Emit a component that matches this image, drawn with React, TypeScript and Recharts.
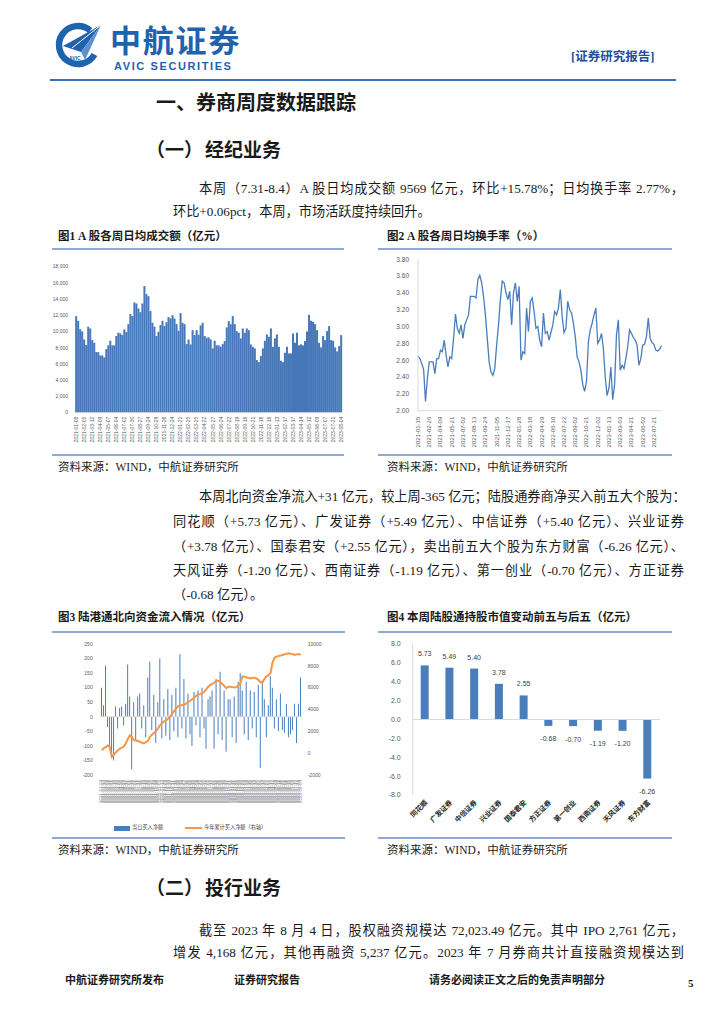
import React from "react";
import { BarChart, Bar, LineChart, Line, ComposedChart, XAxis, YAxis, ReferenceLine, LabelList } from "recharts";

const SERIF = "'Liberation Serif', 'Noto Sans CJK SC', serif";
const SANS = "'Liberation Sans', 'Noto Sans CJK SC', sans-serif";
const BLUE = "#4a7ebb";
const TICK_GREY = "#595959";
const RULE = "#8fa9d4";

// 图1 A股各周日均成交额（亿元）
const TURNOVER = [
  11900, 11330, 10300, 10020, 9030, 8340, 10600, 10390, 8950, 8620,
  7470, 7470, 7060, 7060, 6820, 7840, 8300, 8870, 8300, 8300,
  9450, 9860, 9770, 9570, 10270, 9940, 10920, 12160, 11910, 13590,
  13470, 12850, 12400, 13470, 15610, 14620, 14370, 12530, 11090, 10600,
  9450, 9980, 10800, 11330, 10680, 11170, 11790, 11620, 12030, 11620,
  10920, 10100, 12280, 11090, 10920, 8460, 9030, 8420, 10180, 9570,
  10180, 9610, 10760, 11090, 9450, 9240, 9280, 9030, 7930, 8870,
  8300, 8300, 8130, 8460, 8830, 10510, 11290, 10920, 11910, 10920,
  10060, 9860, 9160, 10390, 9860, 10390, 10180, 8420, 8130, 7930,
  6490, 6240, 6980, 7930, 8870, 9650, 9360, 10390, 8130, 9160,
  9650, 8130, 6410, 6240, 7390, 8130, 7310, 7310, 9770, 8620,
  9860, 8300, 8420, 8300, 8830, 10020, 12070, 11330, 11210, 10920,
  10180, 8620, 8050, 9450, 8950, 10060, 10680, 8950, 8870, 8050,
  7560, 8210, 9569,
];
const TURNOVER_TICKS = [
  "2021-01-08", "2021-02-05", "2021-03-12", "2021-04-09", "2021-05-07", "2021-06-04", "2021-07-02",
  "2021-07-30", "2021-08-27", "2021-09-24", "2021-10-29", "2021-11-26", "2021-12-24", "2022-01-21",
  "2022-02-25", "2022-03-25", "2022-04-22", "2022-05-27", "2022-06-24", "2022-07-22", "2022-08-19",
  "2022-09-16", "2022-10-21", "2022-11-18", "2022-12-16", "2023-01-13", "2023-02-17", "2023-03-17",
  "2023-04-14", "2023-05-12", "2023-06-09", "2023-07-07", "2023-07-21", "2023-08-04",
];
const TURNOVER_Y = [0, 2000, 4000, 6000, 8000, 10000, 12000, 14000, 16000, 18000];

// 图2 A股各周日均换手率（%）
const RATE = [
  2.65, 2.62, 2.56, 2.49, 2.11, 2.38, 2.58, 2.58, 2.58, 2.44,
  2.62, 2.62, 2.72, 2.70, 2.84, 2.66, 2.52, 2.64, 2.62, 2.86,
  3.15, 2.98, 2.92, 3.02, 2.86, 3.02, 3.08, 3.14, 3.36, 3.36,
  3.36, 3.34, 3.56, 3.61, 3.52, 3.36, 3.14, 2.86, 2.58, 2.46,
  2.42, 2.50, 2.78, 3.02, 3.32, 3.54, 3.52, 3.40, 3.32, 3.42,
  3.02, 3.40, 3.52, 3.30, 3.48, 2.60, 2.70, 2.68, 3.22, 2.94,
  3.30, 3.34, 3.18, 2.98, 3.00, 2.84,
  2.76, 3.16, 2.92, 2.94, 2.84, 2.93, 3.02, 3.18, 3.14, 3.22,
  3.44, 3.12, 2.93, 2.98, 3.30, 3.20, 3.16, 3.04, 2.88, 2.64,
  2.58, 2.48, 2.31, 2.23, 2.35, 2.82, 2.96, 3.04, 3.14, 3.22,
  2.80, 2.84, 2.92, 2.74, 2.40, 2.18, 2.27, 2.52, 2.13, 2.31,
  2.90, 3.08, 2.48, 2.54, 2.50, 2.62, 2.76, 2.96, 2.92, 2.87,
  2.84, 2.78, 2.54, 2.62, 2.78, 2.79, 2.88, 3.10, 2.86, 2.81,
  2.79, 2.72, 2.71, 2.73, 2.77,
];
const RATE_TICKS = [
  "2021-01-15", "2021-02-26", "2021-04-09", "2021-05-21", "2021-07-02", "2021-08-13", "2021-09-24",
  "2021-11-05", "2021-12-17", "2022-01-28", "2022-03-18", "2022-04-29", "2022-06-10", "2022-07-22",
  "2022-09-02", "2022-10-21", "2022-12-02", "2023-01-13", "2023-03-03", "2023-04-21", "2023-06-02",
  "2023-07-21",
];
const RATE_Y = [2.0, 2.2, 2.4, 2.6, 2.8, 3.0, 3.2, 3.4, 3.6, 3.8];

// 图3 陆港通北向资金流入情况（亿元）
const NB_DATES = (
  "2021-01-04 2021-01-13 2021-01-22 2021-02-02 2021-02-18 2021-03-01 2021-03-10 2021-03-19 2021-03-30 2021-04-09 " +
  "2021-04-20 2021-04-29 2021-05-12 2021-05-21 2021-06-01 2021-06-10 2021-06-22 2021-07-01 2021-07-12 2021-07-21 " +
  "2021-07-30 2021-08-10 2021-08-19 2021-08-30 2021-09-08 2021-09-17 2021-09-29 2021-10-14 2021-10-25 2021-11-03 " +
  "2021-11-12 2021-11-23 2021-12-02 2021-12-13 2021-12-22 2021-12-31 2022-01-11 2022-01-20 2022-01-28 2022-02-15 " +
  "2022-02-24 2022-03-07 2022-03-16 2022-03-25 2022-04-06 2022-04-15 2022-04-26 2022-05-09 2022-05-18 2022-05-27 " +
  "2022-06-08 2022-06-17 2022-06-28 2022-07-07 2022-07-18 2022-07-27 2022-08-05 2022-08-16 2022-08-25 2022-09-05 " +
  "2022-09-15 2022-09-26 2022-10-12 2022-10-21 2022-11-01 2022-11-10 2022-11-21 2022-11-30 2022-12-09 2022-12-20 " +
  "2022-12-29 2023-01-03 2023-01-09 2023-01-16 2023-01-30 2023-02-06 2023-02-13 2023-02-20 2023-02-27 2023-03-06 " +
  "2023-03-13 2023-03-20 2023-03-27 2023-04-03 2023-04-10 2023-04-17 2023-04-24 2023-05-04 2023-05-11 2023-05-18 " +
  "2023-05-25 2023-06-01 2023-06-08 2023-06-15 2023-06-26 2023-07-03 2023-07-10 2023-07-17 2023-07-24 2023-08-04"
).split(" ");
const NB_DAILY = [
  100, 40, 175, -35, -100, -130, -150, 35, -40, 30,
  35, -30, 45, 180, 70, -180, 50, -80, 70, 80,
  -40, 40, -70, 135, 190, -45, 75, -90, 50, 200,
  -75, 60, -65, 95, -80, 75, -50, 100, -70, 215,
  -40, 130, -75, 80, -60, -100, 85, -30, 90, -70,
  100, -40, -110, 60, 70, 90, -110, 130, -60, 155,
  -80, 90, -120, 60, 60, -70, 70, -90, 120, 150,
  90, -60, 120, -80, 90, -40, 85, -70, 110, -175,
  125, 60, -70, 40, 140, 100, -40, 60, -50, 80,
  -45, -55, 45, -70, -60, -45, 45, -90, 45, 135,
];
const NB_TOTAL = [
  250, 450, 560, 700, 560, -340, -150, 60, 250, 420,
  500, 600, 900, 1300, 1620, 1500, 1190, 1160, 1110, 1050,
  950, 900, 1000, 1130, 1500, 1680, 1850, 2020, 2250, 2570,
  2750, 2900, 3000, 3150, 3330, 3600, 3850, 4100, 4300, 4400,
  4400, 4450, 4530, 4680, 4800, 4930, 5070, 5260, 5360, 5410,
  5500, 5630, 5850, 6080, 6250, 6350, 6450, 6650, 6620, 6540,
  6330, 6150, 5950, 6080, 6080, 6050, 6020, 6060, 6200, 6390,
  7030, 7000, 6950, 6880, 6850, 6900, 6900, 6840, 6700, 6500,
  6500, 6800, 7050, 7150, 7350, 8300, 8750, 8850, 8890, 8950,
  8990, 9060, 9100, 9140, 9100, 9080, 9000, 9050, 9080, 9000,
];
const NB_LEFT_Y = [-200, -150, -100, -50, 0, 50, 100, 150, 200, 250];
const NB_RIGHT_Y = [-2000, 0, 2000, 4000, 6000, 8000, 10000];

// 图4 本周陆股通持股市值变动前五与后五（亿元）
const STOCKS = ["同花顺", "广发证券", "中信证券", "兴业证券", "国泰君安", "方正证券", "第一创业", "西南证券", "天风证券", "东方财富"];
const STOCK_CHANGE = [5.73, 5.49, 5.4, 3.78, 2.55, -0.68, -0.7, -1.19, -1.2, -6.26];
const CHANGE_Y = [-8, -6, -4, -2, 0, 2, 4, 6, 8];

const turnoverData = TURNOVER.map((v, i) => ({ i, v }));
const rateData = RATE.map((v, i) => ({ i, v }));
const nbData = NB_DATES.map((d, i) => ({ d, daily: NB_DAILY[i], total: NB_TOTAL[i] }));
const stockData = STOCKS.map((name, i) => ({ name, v: STOCK_CHANGE[i] }));

function Txt({ x, cy, size = 13.2, lh = 1.4, bold, color, width, justify, family, spacing, children }: any) {
  return (
    <div
      style={{
        position: "absolute",
        left: x,
        top: cy - (size * lh) / 2,
        height: size * lh,
        lineHeight: `${size * lh}px`,
        fontSize: size,
        fontWeight: bold ? 700 : 400,
        color: color || "#1a1a1a",
        fontFamily: family || SERIF,
        width,
        whiteSpace: "nowrap",
        textAlign: justify ? "justify" : "left",
        textAlignLast: justify ? "justify" : "auto",
        letterSpacing: spacing,
      }}
    >
      {children}
    </div>
  );
}

function Rule({ x, y, w, h = 1.5, color = RULE }: any) {
  return <div style={{ position: "absolute", left: x, top: y, width: w, height: h, background: color }} />;
}

function VTick({ x, y, text, size, fill }: any) {
  return (
    <text x={x} y={y} transform={`rotate(-90 ${x} ${y})`} textAnchor="end" dominantBaseline="central"
      fontSize={size} fill={fill || TICK_GREY} fontFamily={SANS}>
      {text}
    </text>
  );
}

function SlantTick({ x, y, payload }: any) {
  const ax = x + 3;
  const ay = y + 4;
  return (
    <text x={ax} y={ay} transform={`rotate(-45 ${ax} ${ay})`} textAnchor="end" fontSize={7} fontWeight={700}
      fill="#262626" fontFamily={SANS}>
      {payload.value}
    </text>
  );
}

function ChangeLabel({ x, y, width, height, value }: any) {
  const top = Math.min(y, y + height);
  const bottom = Math.max(y, y + height);
  const ty = value >= 0 ? top - 9 : bottom + 15.5;
  return (
    <text x={x + width / 2} y={ty} textAnchor="middle" fontSize={7} fill="#404040" fontFamily={SANS}>
      {Number(value).toFixed(2)}
    </text>
  );
}

function Logo() {
  return (
    <svg width={52} height={50} style={{ position: "absolute", left: 54, top: 21 }}>
      <path d="M36.2 9.4 A19 19 0 1 0 40.5 33.5" stroke="#1f62ae" strokeWidth={6.5} fill="none" />
      <polygon points="9,25 47,4 27,31" fill="#1f62ae" />
      <polygon points="27,31 47,4 31,39" fill="#5d92d2" />
      <line x1="18" y1="27" x2="47" y2="4" stroke="#fff" strokeWidth={1} />
      <text x={15} y={39} fontSize={5} fontWeight={700} fill="#1f62ae" fontFamily={SANS}>AVIC</text>
    </svg>
  );
}

export default function App() {
  return (
    <div style={{ position: "absolute", left: 0, top: 0, width: 724, height: 1024, background: "#fff", overflow: "hidden" }}>
      {/* header */}
      <Logo />
      <Txt x={110} cy={42} size={31} lh={0.85} bold color="#1f62ae" family={SANS} spacing={1.8}>中航证券</Txt>
      <Txt x={114} cy={66} size={11} lh={1} bold color="#1f62ae" family={SANS} spacing={1.6}>AVIC SECURITIES</Txt>
      <Txt x={571} cy={58} size={12.5} bold color="#1f4f9c">[证券研究报告]</Txt>
      <Rule x={50} y={79} w={626} h={2} color="#3d6fb5" />

      <Txt x={156} cy={103} size={20} bold>一、券商周度数据跟踪</Txt>
      <Txt x={146} cy={151} size={19} bold>（一）</Txt>
      <Txt x={205} cy={151} size={19} bold>经纪业务</Txt>

      <Txt x={199} cy={189} width={485} justify>本周（7.31-8.4）A 股日均成交额 9569 亿元，环比+15.78%；日均换手率 2.77%，</Txt>
      <Txt x={173} cy={212}>环比+0.06pct，本周，市场活跃度持续回升。</Txt>

      {/* 图1 */}
      <Txt x={58} cy={236} size={11.5} bold>图1 A 股各周日均成交额（亿元）</Txt>
      <Rule x={52} y={248} w={292} />
      <div style={{ position: "absolute", left: 50, top: 255 }}>
        <BarChart width={300} height={200} data={turnoverData} margin={{ top: 11.7, right: 8, bottom: 2, left: 0 }} barCategoryGap="8%">
          <XAxis dataKey="i" interval={3} tickLine={false} tickSize={3} tickMargin={1} height={40.3}
            axisLine={{ stroke: "#d9d9d9" }}
            tick={(p: any) => <VTick x={p.x} y={p.y} text={TURNOVER_TICKS[Math.round(p.payload.value / 4)]} size={5} />} />
          <YAxis width={25} domain={[0, 18000]} ticks={TURNOVER_Y} tickFormatter={(v: number) => v.toLocaleString("en-US")}
            axisLine={false} tickLine={false} tickMargin={1} tick={{ fontSize: 5, fill: TICK_GREY, fontFamily: SANS }} />
          <Bar dataKey="v" fill="#4677b8" isAnimationActive={false} />
        </BarChart>
      </div>
      <Rule x={52} y={454} w={292} />
      <Txt x={58} cy={467} size={11.5}>资料来源：WIND，中航证券研究所</Txt>

      {/* 图2 */}
      <Txt x={387} cy={236} size={11.5} bold>图2 A 股各周日均换手率（%）</Txt>
      <Rule x={378} y={248} w={294} />
      <div style={{ position: "absolute", left: 375, top: 250 }}>
        <LineChart width={300} height={205} data={rateData} margin={{ top: 9.3, right: 13.6, bottom: 2, left: 0 }}>
          <XAxis dataKey="i" interval={5} tickLine={false} tickSize={4} tickMargin={2} height={42.3}
            axisLine={{ stroke: "#d9d9d9" }}
            tick={(p: any) => <VTick x={p.x} y={p.y} text={RATE_TICKS[Math.round(p.payload.value / 6)]} size={6} />} />
          <YAxis width={43} domain={[2, 3.8]} ticks={RATE_Y} tickFormatter={(v: number) => v.toFixed(2)}
            axisLine={{ stroke: "#d9d9d9" }} tickLine={false} tickMargin={3}
            tick={{ fontSize: 6.5, fill: TICK_GREY, fontFamily: SANS }} />
          <Line dataKey="v" stroke={BLUE} strokeWidth={1.3} dot={false} type="linear" isAnimationActive={false} />
        </LineChart>
      </div>
      <Rule x={378} y={454} w={294} />
      <Txt x={387} cy={467} size={11.5}>资料来源：WIND，中航证券研究所</Txt>

      {/* 正文 */}
      <Txt x={199} cy={497} width={485} justify>本周北向资金净流入+31 亿元，较上周-365 亿元；陆股通券商净买入前五大个股为：</Txt>
      <Txt x={173} cy={522} width={511} justify>同花顺（+5.73 亿元）、广发证券（+5.49 亿元）、中信证券（+5.40 亿元）、兴业证券</Txt>
      <Txt x={173} cy={547} width={511} justify>（+3.78 亿元）、国泰君安（+2.55 亿元），卖出前五大个股为东方财富（-6.26 亿元）、</Txt>
      <Txt x={173} cy={571} width={511} justify>天风证券（-1.20 亿元）、西南证券（-1.19 亿元）、第一创业（-0.70 亿元）、方正证券</Txt>
      <Txt x={173} cy={595}>（-0.68 亿元）。</Txt>

      {/* 图3 */}
      <Txt x={58} cy={617} size={11.5} bold>图3 陆港通北向资金流入情况（亿元）</Txt>
      <Rule x={52} y={631} w={293} />
      <div style={{ position: "absolute", left: 60, top: 635 }}>
        <ComposedChart width={270} height={176} data={nbData} margin={{ top: 9, right: 0, bottom: 0, left: 0 }} barCategoryGap="15%">
          <XAxis dataKey="d" interval={0} tickLine={false} tickSize={3} tickMargin={2} height={36} axisLine={false}
            tick={(p: any) => <VTick x={p.x} y={p.y} text={p.payload.value} size={4.5} fill="#8c8c8c" />} />
          <YAxis yAxisId="l" width={40.7} domain={[-200, 250]} ticks={NB_LEFT_Y} axisLine={false} tickLine={false}
            tick={{ fontSize: 5, fill: TICK_GREY, fontFamily: SANS }} />
          <YAxis yAxisId="r" orientation="right" width={28.3} domain={[-2000, 10000]} ticks={NB_RIGHT_Y}
            axisLine={false} tickLine={false} tickMargin={0} tick={{ fontSize: 5, fill: TICK_GREY, fontFamily: SANS }} />
          <Bar yAxisId="l" dataKey="daily" fill={BLUE} isAnimationActive={false} />
          <ReferenceLine yAxisId="l" y={0} stroke="#d9d9d9" />
          <Line yAxisId="r" dataKey="total" stroke="#f79646" strokeWidth={2} dot={false} type="linear" isAnimationActive={false} />
        </ComposedChart>
      </div>
      <div style={{ position: "absolute", left: 114, top: 826, width: 16, height: 4.5, background: BLUE }} />
      <Txt x={132} cy={828} size={5.2} family={SANS} color="#404040">当日买入净额</Txt>
      <div style={{ position: "absolute", left: 185, top: 827, width: 17, height: 2, background: "#f79646" }} />
      <Txt x={204} cy={828} size={5.2} family={SANS} color="#404040">今年累计买入净额（右轴）</Txt>
      <Rule x={52} y={837} w={293} />
      <Txt x={58} cy={850} size={11.5}>资料来源：WIND，中航证券研究所</Txt>

      {/* 图4 */}
      <Txt x={387} cy={617} size={11.5} bold>图4 本周陆股通持股市值变动前五与后五（亿元）</Txt>
      <Rule x={378} y={631} w={294} />
      <div style={{ position: "absolute", left: 380, top: 635 }}>
        <BarChart width={290} height={200} data={stockData} margin={{ top: 9, right: 10, bottom: 0, left: 0 }}>
          <XAxis dataKey="name" interval={0} axisLine={false} tickLine={false} tickSize={0} tickMargin={4} height={40} tick={(p: any) => <SlantTick {...p} />} />
          <YAxis width={32.7} domain={[-8, 8]} ticks={CHANGE_Y} tickFormatter={(v: number) => v.toFixed(1)}
            axisLine={{ stroke: "#d9d9d9" }} tickLine={false} tickMargin={6}
            tick={{ fontSize: 7, fill: TICK_GREY, fontFamily: SANS }} />
          <ReferenceLine y={0} stroke="#d9d9d9" />
          <Bar dataKey="v" fill={BLUE} barSize={8} isAnimationActive={false}>
            <LabelList dataKey="v" content={(p: any) => <ChangeLabel {...p} />} />
          </Bar>
        </BarChart>
      </div>
      <Rule x={378} y={837} w={294} />
      <Txt x={387} cy={850} size={11.5}>资料来源：WIND，中航证券研究所</Txt>

      {/* （二） 投行业务 */}
      <Txt x={146} cy={889} size={19} bold>（二）</Txt>
      <Txt x={205} cy={889} size={19} bold>投行业务</Txt>
      <Txt x={199} cy={931} width={485} justify>截至 2023 年 8 月 4 日，股权融资规模达 72,023.49 亿元。其中 IPO 2,761 亿元，</Txt>
      <Txt x={173} cy={953} width={511} justify>增发 4,168 亿元，其他再融资 5,237 亿元。2023 年 7 月券商共计直接融资规模达到</Txt>

      {/* footer */}
      <Txt x={65} cy={981} size={11} bold>中航证券研究所发布</Txt>
      <Txt x={234} cy={981} size={11} bold>证券研究报告</Txt>
      <Txt x={429} cy={981} size={11} bold>请务必阅读正文之后的免责声明部分</Txt>
      <Txt x={688} cy={984} size={11} bold>5</Txt>
    </div>
  );
}
